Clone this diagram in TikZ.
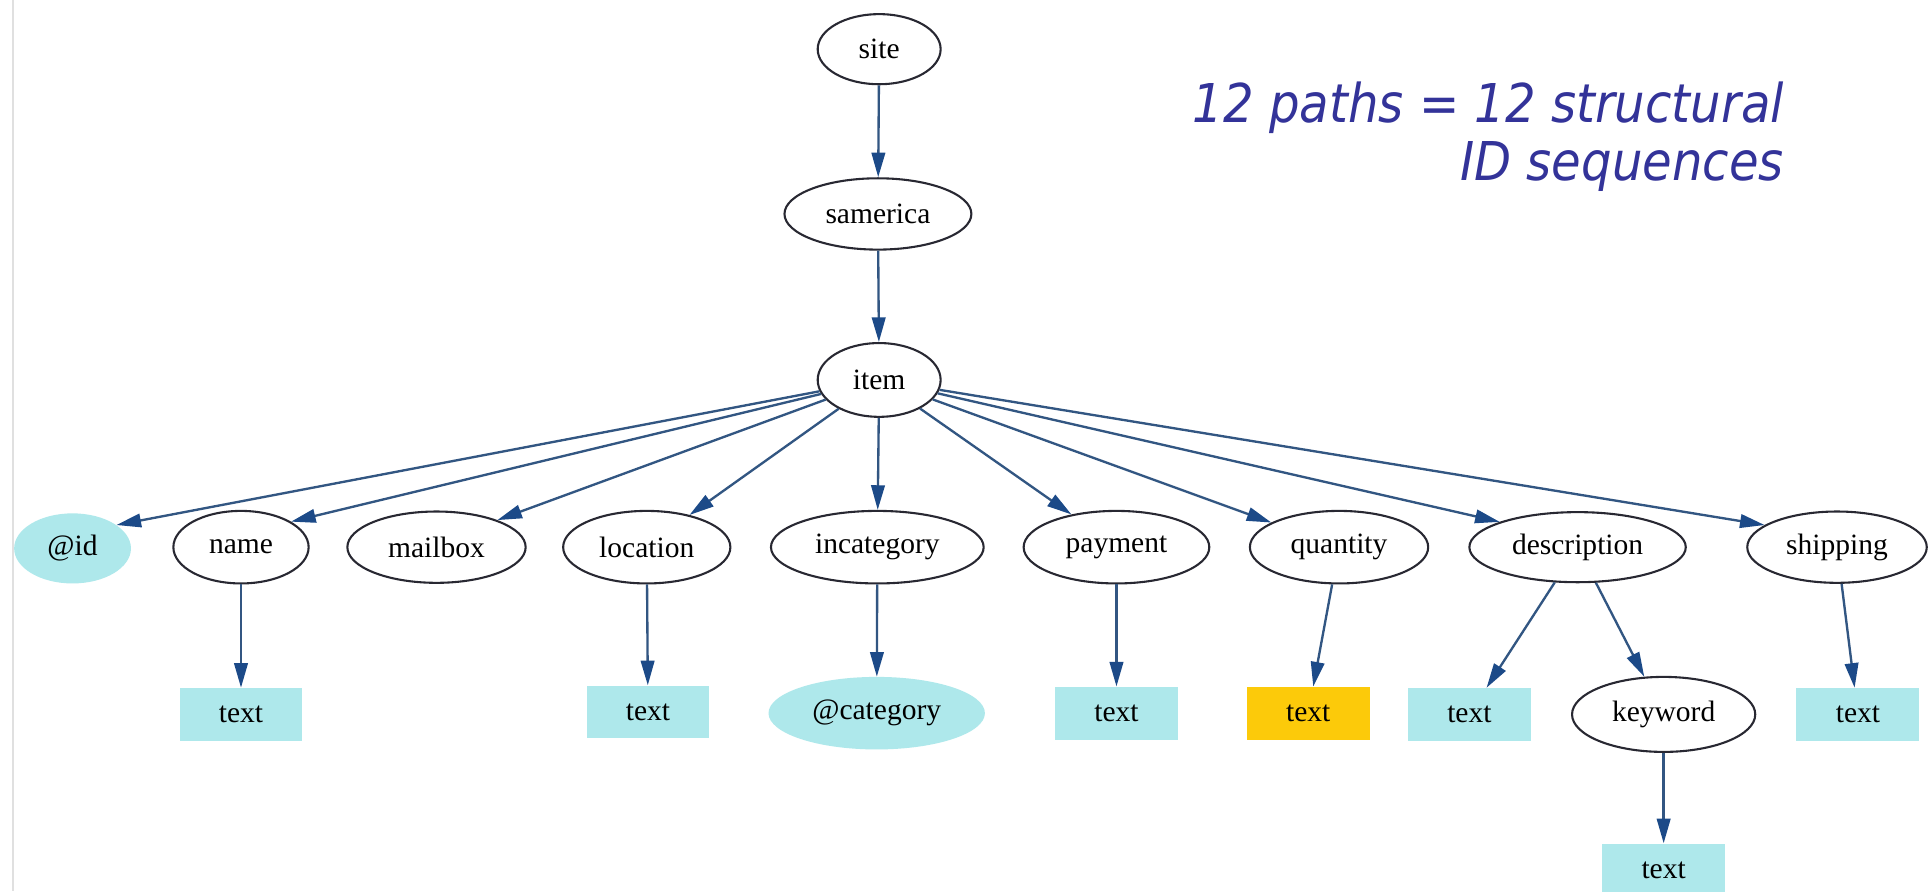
\documentclass[tikz,border=0pt]{standalone}
\usepackage{fontspec}
\setmainfont{Liberation Serif}
\newfontfamily\notefont{DejaVuSansCondensed-Oblique.ttf}
\usetikzlibrary{arrows.meta,shapes.geometric}

\definecolor{edgeblue}{RGB}{50,86,130}
\definecolor{tipblue}{RGB}{28,74,136}
\definecolor{leafcyan}{RGB}{174,232,235}
\definecolor{leafgold}{RGB}{252,202,10}
\definecolor{noteblue}{RGB}{51,51,153}
\definecolor{outline}{RGB}{40,40,50}

\begin{document}
\begin{tikzpicture}[x=1pt,y=-1pt,
  every node/.style={font=\fontsize{24}{28}\selectfont, inner sep=0pt},
  elem/.style={ellipse, draw=outline, line width=1.7pt, fill=white},
  attr/.style={ellipse, fill=leafcyan},
  leaf/.style={rectangle, fill=leafcyan, minimum width=100pt, minimum height=43pt},
  hit/.style={leaf, fill=leafgold},
  edge/.style={draw=edgeblue, line width=1.9pt,
    -{Triangle[length=20pt,width=11pt,color=tipblue]}},
  note/.style={anchor=base east, text=noteblue,
    font=\notefont\fontsize{43.5}{48}\selectfont},
]
\useasboundingbox (0,0) rectangle (1568,725);
\fill[white] (0,0) rectangle (1568,725);
\draw[black!12, line width=1pt] (10.5,0) -- (10.5,725);

% root chain
\node[elem, minimum width=100pt, minimum height=57pt] (site) at (715,40) {site};
\node[elem, minimum width=152pt, minimum height=58pt] (samerica) at (714,174) {samerica};
\node[elem, minimum width=100pt, minimum height=60pt] (item) at (715,309) {item};

% children of item
\node[attr, minimum width=95pt, minimum height=57pt] (id) at (59,446) {@id};
\node[elem, minimum width=110pt, minimum height=59pt] (name) at (196,445) {name};
\node[elem, minimum width=145pt, minimum height=58pt] (mailbox) at (355,445) {mailbox};
\node[elem, minimum width=136pt, minimum height=59pt] (location) at (526,445) {location};
\node[elem, minimum width=173pt, minimum height=59pt] (incategory) at (713.5,445) {incategory};
\node[elem, minimum width=151pt, minimum height=59pt] (payment) at (908,445) {payment};
\node[elem, minimum width=145pt, minimum height=59pt] (quantity) at (1089,445) {quantity};
\node[elem, minimum width=176pt, minimum height=57pt] (description) at (1283,445) {description};
\node[elem, minimum width=146pt, minimum height=58pt] (shipping) at (1494,445) {shipping};

% second level
\node[leaf] (nametext) at (196,581) {text};
\node[leaf] (loctext) at (527,579) {text};
\node[attr, minimum width=176pt, minimum height=59pt] (category) at (713,580) {@category};
\node[leaf] (paytext) at (908,580) {text};
\node[hit] (qtytext) at (1064,580) {text};
\node[leaf] (desctext) at (1195,581) {text};
\node[elem, minimum width=149pt, minimum height=61pt] (keyword) at (1353,581) {keyword};
\node[leaf] (shiptext) at (1511,581) {text};

% third level
\node[leaf] (kwtext) at (1353,707.5) {text};

% connectors
\draw[edge] (site) -- (samerica);
\draw[edge] (samerica) -- (item);
\draw[edge] (item) -- (id.28);
\draw[edge] (item) -- (name.27);
\draw[edge] (item) -- (mailbox.24);
\draw[edge] (item) -- (location.37);
\draw[edge] (item) -- (incategory);
\draw[edge] (item) -- (payment.144);
\draw[edge] (item) -- (quantity.160);
\draw[edge] (item) -- (description.162);
\draw[edge] (item) -- (shipping.163);
\draw[edge] (name) -- (nametext);
\draw[edge] (location) -- (loctext);
\draw[edge] (incategory) -- (category);
\draw[edge] (payment) -- (paytext);
\draw[edge] (quantity) -- (qtytext);
\draw[edge] (description) -- (desctext);
\draw[edge] (description) -- (keyword);
\draw[edge] (shipping) -- (shiptext);
\draw[edge] (keyword) -- (kwtext);

% annotation
\node[note] (note1) at (1451,100) {12 paths = 12 structural};
\node[note] (note2) at (1451,146.5) {ID sequences};
\end{tikzpicture}
\end{document}
